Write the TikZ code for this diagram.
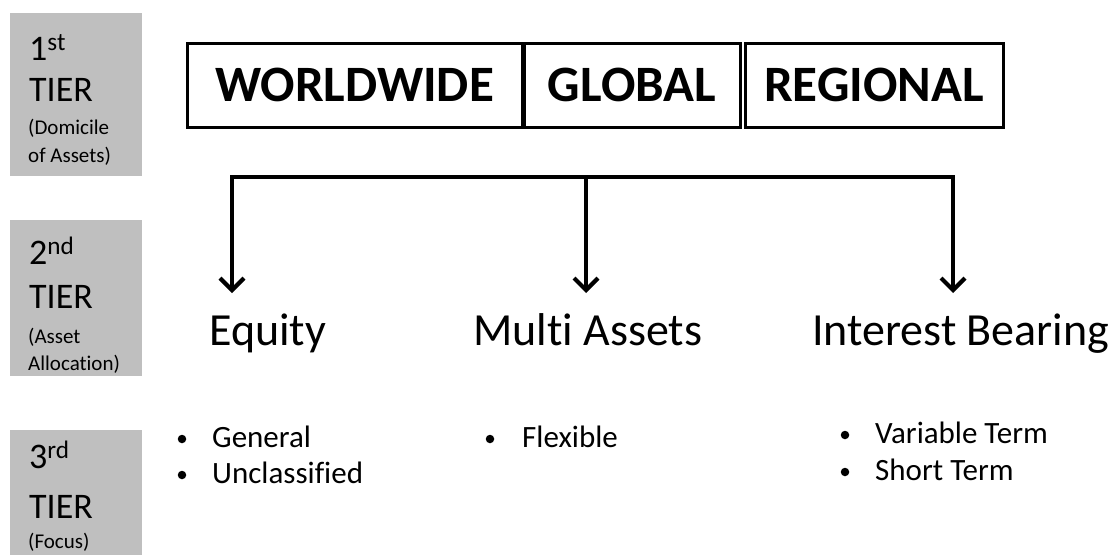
\documentclass[tikz,border=0pt]{standalone}
\usepackage{fontspec}
\setmainfont{Carlito}[Ligatures=NoCommon]
\usetikzlibrary{arrows.meta}
\definecolor{tiergray}{HTML}{BFBFBF}
\tikzset{
  tierbox/.style={fill=tiergray, draw=none},
  tierbig/.style={anchor=base west, inner sep=0pt, font=\fontsize{36}{38}\selectfont},
  tiersmall/.style={anchor=base west, inner sep=0pt, font=\fontsize{21}{23}\selectfont},
  topbox/.style={draw=black, line width=3pt, inner sep=0pt, minimum height=84pt,
     font=\bfseries\fontsize{51}{54}\selectfont, text height=32pt, text depth=0pt},
  catlabel/.style={anchor=base west, inner sep=0pt, font=\fontsize{46}{50}\selectfont},
  bullettext/.style={anchor=base west, inner sep=0pt, font=\fontsize{31}{34}\selectfont},
  bulletdot/.style={circle, fill=black, inner sep=0pt, minimum size=8.5pt},
  connector/.style={line width=3.2pt},
  arrowline/.style={line width=3.2pt, -{Straight Barb[length=12pt,width=24pt,line width=4.2pt]}}
}
\begin{document}
\begin{tikzpicture}[x={(1pt,0)}, y={(0,-1pt)}]
\useasboundingbox (0,0) rectangle (1115,555);
% tier boxes
\fill[tierbox] (10,13) rectangle (142,176);
\fill[tierbox] (10,220) rectangle (142,376);
\fill[tierbox] (10,430) rectangle (142,555);
% tier 1
\node[tierbig] (t1a) at (29,60) {1\textsuperscript{st}};
\node[tierbig] (t1b) at (29,101) {TIER};
\node[tiersmall] (t1c) at (28,134) {(Domicile};
\node[tiersmall] (t1d) at (28,162) {of Assets)};
% tier 2
\node[tierbig] (t2a) at (29,264) {2\textsuperscript{nd}};
\node[tierbig] (t2b) at (29,308) {TIER};
\node[tiersmall] (t2c) at (28,343) {(Asset};
\node[tiersmall] (t2d) at (28,370) {Allocation)};
% tier 3
\node[tierbig] (t3a) at (29,468) {3\textsuperscript{rd}};
\node[tierbig] (t3b) at (29,518) {TIER};
\node[tiersmall] (t3c) at (28,548) {(Focus)};
% top boxes
\node[topbox, minimum width=335pt] (ww) at (354.5,85) {WORLDWIDE};
\node[topbox, minimum width=216pt] (gl) at (632,85) {GLOBAL};
\node[topbox, minimum width=258pt] (rg) at (874,85) {REGIONAL};
% connectors
\coordinate (b1) at (232,177);
\coordinate (b2) at (586,177);
\coordinate (b3) at (953,177);
\coordinate (e1) at (232,293);
\coordinate (e2) at (586,293);
\coordinate (e3) at (953,293);
\draw[connector, line cap=rect] (b1) -- (b3);
\draw[arrowline] (b1) -- (e1);
\draw[arrowline] (b2) -- (e2);
\draw[arrowline] (b3) -- (e3);
% category labels
\node[catlabel] (eq) at (209,345) {Equity};
\node[catlabel] (ma) at (473,345) {Multi Assets};
\node[catlabel] (ib) at (812,345) {Interest Bearing};
% bullets
\node[bulletdot] (d1) at (182,439) {};
\node[bullettext] (g1) at (212,447) {General};
\node[bulletdot] (d2) at (182,475) {};
\node[bullettext] (g2) at (212,483) {Unclassified};
\node[bulletdot] (d3) at (490,439) {};
\node[bullettext] (g3) at (522,447) {Flexible};
\node[bulletdot] (d4) at (845,435) {};
\node[bullettext] (g4) at (875,443) {Variable Term};
\node[bulletdot] (d5) at (845,472) {};
\node[bullettext] (g5) at (875,480) {Short Term};
\end{tikzpicture}
\end{document}
